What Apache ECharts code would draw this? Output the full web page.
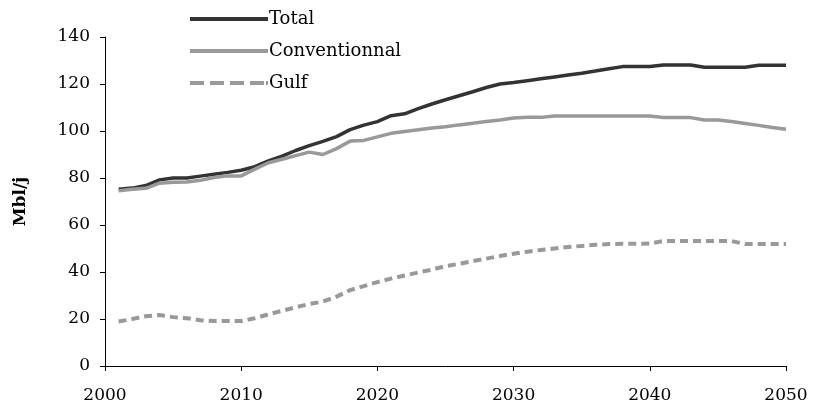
<!DOCTYPE html>
<html>
<head>
<meta charset="utf-8">
<script src="https://cdn.jsdelivr.net/npm/echarts@6/dist/echarts.min.js"></script>
<style>
html, body { margin: 0; padding: 0; background: #fff; }
#chart { width: 815px; height: 412px; }
</style>
</head>
<body>
<div id="chart"></div>
<script>
var years = [];
for (var y = 2001; y <= 2050; y++) years.push(y);

var total = [
	75.2, 75.7, 76.8, 79.2, 80, 80, 80.8, 81.6, 82.4, 83.3,
	84.8, 87.3, 89.3, 91.7, 93.8, 95.6, 97.6, 100.6, 102.5, 104,
	106.5, 107.3, 109.5, 111.5, 113.3, 115, 116.7, 118.5, 120, 120.6,
	121.4, 122.2, 123, 123.8, 124.6, 125.5, 126.5, 127.4, 127.4, 127.4,
	128.1, 128.1, 128.1, 127.1, 127.1, 127.1, 127.1, 128, 128, 128
];
var conventional = [
	74.6, 75.2, 75.6, 77.8, 78.2, 78.3, 79, 80.2, 80.9, 80.9,
	83.8, 86.5, 88, 89.5, 91, 90, 92.5, 95.7, 96, 97.5,
	99, 99.8, 100.5, 101.3, 101.8, 102.6, 103.3, 104, 104.7, 105.5,
	105.8, 105.8, 106.4, 106.4, 106.4, 106.4, 106.4, 106.4, 106.4, 106.4,
	105.7, 105.7, 105.7, 104.7, 104.7, 104, 103.2, 102.4, 101.5, 100.7
];
var gulf = [
	18.9, 20, 21.2, 21.7, 20.8, 20.3, 19.5, 19.1, 19.1, 19.1,
	20.3, 22, 23.5, 25, 26.4, 27.4, 29.5, 32.3, 34, 35.7,
	37.2, 38.5, 39.8, 41, 42.5, 43.5, 44.6, 45.7, 46.8, 47.8,
	48.6, 49.4, 50, 50.6, 51.1, 51.6, 51.9, 52, 52, 52.1,
	53.2, 53.2, 53.2, 53.2, 53.2, 53.2, 51.9, 51.9, 51.9, 51.9
];
var seriesNames = ['Total', 'Conventionnal', 'Gulf'];

function pairs(vals) {
	return vals.map(function (v, i) { return [years[i], v]; });
}

var font = '"DejaVu Serif", "Liberation Serif", serif';
// legend keys drawn as flat bars, the Gulf one cut in dashes
var dashIcon = 'path://M0,0h14v4h-14z M20,0h14v4h-14z M40,0h14v4h-14z M60,0h14v4h-14z M76,0h2v4h-2z';

var chart = echarts.init(document.getElementById('chart'));
chart.setOption({
	animation: false,
	backgroundColor: '#fff',
	grid: { left: 105, right: 29, top: 37, bottom: 46 },
	legend: {
		orient: 'vertical',
		left: 185,
		top: 4,
		itemWidth: 78,
		itemHeight: 4,
		itemGap: 12,
		data: [
			{ name: seriesNames[0], icon: 'rect' },
			{ name: seriesNames[1], icon: 'rect' },
			{ name: seriesNames[2], icon: dashIcon }
		],
		textStyle: { fontFamily: font, fontSize: 18, lineHeight: 20, color: '#000', padding: [0, 0, 0, -4] }
	},
	xAxis: {
		type: 'value',
		min: 2000,
		max: 2050,
		interval: 10,
		splitLine: { show: false },
		axisLine: { onZero: false, lineStyle: { color: '#000', width: 1 } },
		axisTick: { show: true, inside: false, length: 5, lineStyle: { color: '#000' } },
		axisLabel: {
			margin: 21, fontFamily: font, fontSize: 17, color: '#000',
			formatter: function (v) { return String(v); }
		}
	},
	yAxis: {
		type: 'value',
		min: 0,
		max: 140,
		interval: 20,
		name: 'Mbl/j',
		nameLocation: 'middle',
		nameGap: 76,
		nameTextStyle: { fontFamily: font, fontSize: 17, fontWeight: 'bold', color: '#000' },
		splitLine: { show: false },
		axisLine: { show: true, lineStyle: { color: '#000', width: 1 } },
		axisTick: { show: true, inside: false, length: 5, lineStyle: { color: '#000' } },
		axisLabel: { margin: 15, fontFamily: font, fontSize: 17, color: '#000' }
	},
	series: [
		{
			name: seriesNames[0],
			type: 'line',
			data: pairs(total),
			symbol: 'none',
			lineStyle: { color: '#333333', width: 3.5 },
			itemStyle: { color: '#333333' }
		},
		{
			name: seriesNames[1],
			type: 'line',
			data: pairs(conventional),
			symbol: 'none',
			lineStyle: { color: '#999999', width: 3.5 },
			itemStyle: { color: '#999999' }
		},
		{
			name: seriesNames[2],
			type: 'line',
			data: pairs(gulf),
			symbol: 'none',
			lineStyle: { color: '#999999', width: 4, type: [8, 5] },
			itemStyle: { color: '#999999' }
		}
	]
});
</script>
</body>
</html>
